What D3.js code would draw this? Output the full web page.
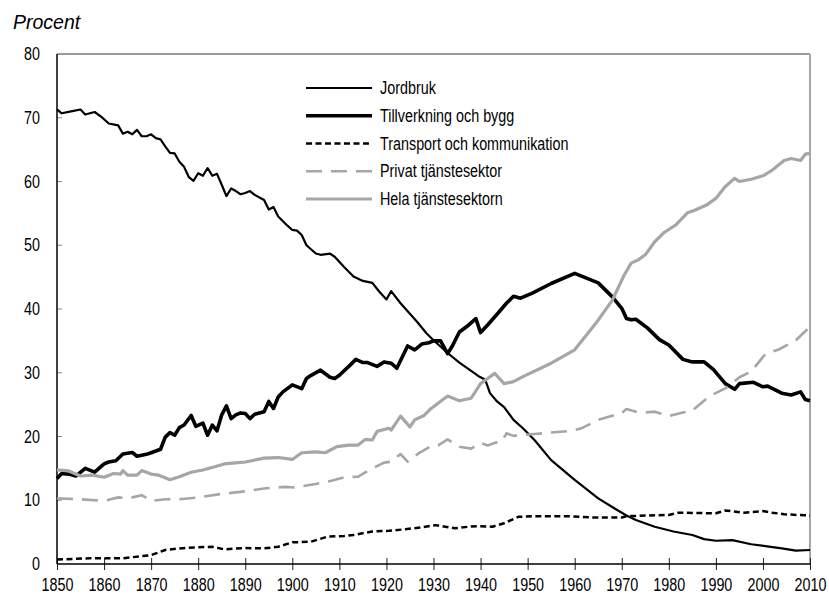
<!DOCTYPE html>
<html>
<head>
<meta charset="utf-8">
<script src="https://cdn.jsdelivr.net/npm/d3@7"></script>
<style>
  body { margin: 0; background: #fff; }
  text { font-family: "Liberation Sans", Arial, sans-serif; fill: #000; }
</style>
</head>
<body>
<svg id="chart"></svg>
<script>
// values, [year, percent]
let jordbruk = [[1850,71.3],[1851,70.7],[1853,71.0],[1855,71.3],[1856,70.5],[1858,70.9],[1859.5,70.1],[1861,69.1],[1863,68.8],[1864,67.5],[1865,67.8],[1866,67.4],[1867,68.1],[1868,67.1],[1869,67.1],[1870,67.4],[1871,66.8],[1872,66.6],[1873,65.5],[1874,64.5],[1875,64.4],[1876,63.1],[1877,62.3],[1878,60.7],[1879,60.1],[1880,61.3],[1881,60.9],[1882,62.1],[1883,60.9],[1884,61.2],[1885,59.5],[1886,57.7],[1887,58.9],[1888,58.5],[1889,58.0],[1890,58.2],[1891,58.5],[1892,57.9],[1894,57.1],[1895,55.6],[1896,56.0],[1897,54.5],[1898.5,53.4],[1900,52.4],[1901,52.3],[1902,51.6],[1903,50.0],[1905,48.7],[1906,48.5],[1908,48.7],[1909,48.2],[1911,46.6],[1913,45.1],[1915,44.4],[1917,44.1],[1918.5,42.7],[1920,41.5],[1921,42.8],[1923,40.9],[1926.5,38.0],[1928.5,36.2],[1930,35.1],[1933,33.1],[1935.5,31.6],[1938,30.3],[1939.5,29.5],[1941,28.9],[1942,26.8],[1943.5,25.5],[1945,24.6],[1947,22.6],[1949,21.3],[1951.5,19.4],[1955,16.3],[1960,13.2],[1965,10.3],[1968.5,8.7],[1971,7.6],[1973,6.9],[1977,5.85],[1981,5.1],[1985,4.55],[1987.5,3.9],[1990,3.65],[1993.5,3.75],[1997.5,3.1],[2000.5,2.8],[2004,2.45],[2007,2.1],[2010,2.2]];

let tillverkning = [[1850,13.4],[1851,14.2],[1852.5,14.1],[1854,13.8],[1856,15.0],[1858,14.4],[1860,15.7],[1861,16.0],[1862.5,16.2],[1864,17.25],[1866,17.5],[1867,16.9],[1869,17.2],[1870,17.45],[1872,18.0],[1873,19.9],[1874,20.6],[1875,20.2],[1876,21.4],[1877,21.8],[1878.5,23.3],[1879.5,21.6],[1881,22.1],[1882,20.2],[1883,21.8],[1884,20.9],[1885,23.4],[1886,24.8],[1887,22.8],[1888,23.4],[1889,23.7],[1890,23.6],[1891,22.8],[1892,23.5],[1894,23.9],[1895,25.5],[1896,24.4],[1897,26.2],[1898,27.0],[1900,28.1],[1902,27.5],[1903,29.1],[1904,29.6],[1906,30.4],[1908,29.3],[1909,29.1],[1910,29.6],[1912,31.0],[1913.5,32.1],[1915,31.6],[1916,31.6],[1918,31.0],[1919.5,31.7],[1921,31.5],[1922.2,30.7],[1924.5,34.2],[1926,33.6],[1927.5,34.5],[1929,34.7],[1930,35.0],[1931.5,35.0],[1933,33.0],[1934,34.2],[1935.5,36.4],[1937.5,37.5],[1939,38.5],[1940,36.3],[1941.5,37.5],[1944,39.6],[1945.5,40.9],[1947,42.0],[1948.5,41.7],[1951,42.5],[1955,44.0],[1960,45.6],[1965,44.1],[1968,41.9],[1970,40.1],[1971,38.5],[1972,38.3],[1973,38.4],[1975.5,37.0],[1978,35.2],[1980,34.35],[1983,32.1],[1985,31.7],[1987.5,31.7],[1989.5,30.5],[1992,28.3],[1994,27.4],[1995,28.3],[1998,28.5],[2000,27.8],[2001,27.9],[2004,26.8],[2006,26.5],[2008,27.0],[2009,25.8],[2010,25.6]];

let transport = [[1850,0.7],[1857,0.9],[1864,0.9],[1870,1.4],[1873,2.2],[1876,2.45],[1879.5,2.6],[1883,2.7],[1885.5,2.3],[1890,2.5],[1894,2.45],[1897,2.7],[1900,3.4],[1904,3.5],[1907.5,4.3],[1911,4.4],[1913,4.55],[1917,5.1],[1920.5,5.2],[1924,5.45],[1927.5,5.75],[1930.5,6.1],[1932.5,5.85],[1934.5,5.6],[1937.5,5.85],[1939.5,5.95],[1942.5,5.85],[1945,6.4],[1948,7.4],[1951.5,7.5],[1958.5,7.5],[1964,7.3],[1970,7.3],[1971,7.5],[1980,7.7],[1982,8.05],[1990,7.95],[1992,8.4],[1996,8.05],[2000,8.3],[2002,8.05],[2004.5,7.8],[2010,7.6]];

let privat = [[1850,10.3],[1855,10.15],[1860,9.9],[1863,10.45],[1865,10.3],[1866,10.45],[1868,10.8],[1870,9.9],[1873,10.15],[1876,10.15],[1880,10.45],[1885,11.0],[1890,11.4],[1894,11.85],[1898.5,12.1],[1900.5,12.0],[1905,12.55],[1908.5,13.1],[1911,13.6],[1914,13.7],[1917,15.0],[1919.5,15.9],[1921,16.05],[1923,17.25],[1924.5,16.05],[1927,17.45],[1929.5,18.5],[1931,18.6],[1933,19.55],[1935.5,18.4],[1938,18.1],[1940,19.0],[1941.5,18.6],[1943,19.0],[1944.5,19.2],[1945.5,20.5],[1947,20.1],[1951.5,20.4],[1959.5,20.9],[1961.5,21.3],[1965,22.6],[1970,23.7],[1971,24.3],[1973,23.9],[1975,23.75],[1977,23.9],[1980,23.2],[1983,23.75],[1985,24.05],[1988.5,26.25],[1992,27.55],[1995,29.3],[1997.5,30.2],[2000.5,32.9],[2003.5,33.7],[2007,35.1],[2010,37.2]];

let hela = [[1850,14.75],[1852.5,14.6],[1855,13.8],[1857.5,13.95],[1860,13.6],[1862,14.2],[1863.5,14.1],[1864,14.65],[1865,13.95],[1867,13.95],[1868,14.65],[1870,14.1],[1871.5,13.95],[1874,13.2],[1876,13.7],[1878.5,14.4],[1881,14.75],[1883,15.15],[1885.5,15.7],[1888.5,15.9],[1890,16.0],[1894,16.6],[1897,16.7],[1900,16.4],[1902,17.45],[1905,17.6],[1907,17.45],[1909.5,18.4],[1912,18.65],[1914,18.65],[1915.5,19.55],[1917,19.45],[1918,20.8],[1920.5,21.3],[1921,21.0],[1923,23.2],[1925,21.5],[1926,22.6],[1928,23.3],[1929.5,24.4],[1933,26.35],[1935.5,25.6],[1938,26.0],[1940,28.3],[1941.5,29.1],[1943,29.9],[1945,28.3],[1947,28.6],[1949,29.4],[1955,31.5],[1960,33.6],[1964.5,37.75],[1968,41.4],[1970.5,45.3],[1972,47.2],[1973.5,47.7],[1975,48.5],[1977,50.55],[1979,52.0],[1981.5,53.2],[1984,55.1],[1985.5,55.5],[1988,56.3],[1990,57.35],[1992,59.2],[1994,60.5],[1995,60.0],[1997.5,60.35],[2000,60.9],[2002,61.8],[2004.5,63.3],[2006,63.6],[2008,63.3],[2009,64.3],[2010,64.4]];

let seriesNames = ["Jordbruk", "Tillverkning och bygg", "Transport och kommunikation", "Privat tjänstesektor", "Hela tjänstesektorn"];
let xTicks = d3.range(1850, 2011, 10);
let yTicks = d3.range(0, 81, 10);

// no narrow font installed, so squeeze Liberation Sans horizontally
let narrow = 0.82;

function getConfig() {
    let width = 829;
    let height = 596;
    let margin = {top: 54, bottom: 32, left: 57, right: 19};
    let container = d3.select("#chart").attr("width", width).attr("height", height);
    return {width, height, margin, container};
}

function getScales(config) {
    let {width, height, margin} = config;
    let xScale = d3.scaleLinear().domain([1850, 2010]).range([margin.left, width - margin.right]);
    let yScale = d3.scaleLinear().domain([0, 80]).range([height - margin.bottom, margin.top]);
    return {xScale, yScale};
}

function drawFrame(scales, config) {
    let {xScale, yScale} = scales;
    let {container} = config;
    let x0 = xScale(1850), x1 = xScale(2010), y0 = yScale(0), y1 = yScale(80);

    // top and right border are grey, like the original
    container.append("line").attr("x1", x0).attr("x2", x1).attr("y1", y1).attr("y2", y1)
        .attr("stroke", "#7a7a7a").attr("stroke-width", 1.5);
    container.append("line").attr("x1", x1).attr("x2", x1).attr("y1", y1).attr("y2", y0)
        .attr("stroke", "#a6a6a6").attr("stroke-width", 2);

    // y axis: ticks point inward
    let axisY = d3.axisLeft(yScale).tickValues(yTicks).tickSize(0);
    let gy = container.append("g").attr("transform", `translate(${x0},0)`).call(axisY);
    gy.select(".domain").remove();
    gy.selectAll("text")
        .attr("x", 0)
        .attr("transform", `translate(-17,0) scale(${narrow},1)`)
        .style("font-size", "17.5px");
    container.selectAll(".ytick").data(yTicks.slice(1, -1)).enter().append("line")
        .attr("x1", x0).attr("x2", x0 + 5)
        .attr("y1", d => yScale(d)).attr("y2", d => yScale(d))
        .attr("stroke", "#8a8a8a").attr("stroke-width", 1);

    // x axis: ticks cross the line
    let axisX = d3.axisBottom(xScale).tickValues(xTicks).tickFormat(d3.format("d"))
        .tickSizeInner(6).tickSizeOuter(0).tickPadding(9);
    let gx = container.append("g").attr("transform", `translate(0,${y0})`).call(axisX);
    gx.select(".domain").remove();
    gx.selectAll(".tick line").attr("y1", -6).attr("stroke", "#222");
    gx.selectAll("text")
        .attr("transform", `scale(${narrow},1)`)
        .style("font-size", "17.5px");

    container.append("line").attr("x1", x0).attr("x2", x0).attr("y1", y1).attr("y2", y0)
        .attr("stroke", "#000").attr("stroke-width", 1.5);
    container.append("line").attr("x1", x0).attr("x2", x1).attr("y1", y0).attr("y2", y0)
        .attr("stroke", "#000").attr("stroke-width", 1.5);

    container.append("text").attr("x", 13).attr("y", 29)
        .style("font-style", "italic").style("font-size", "19.5px")
        .text("Procent");
}

function drawLines(series, scales, config) {
    let {xScale, yScale} = scales;
    let {container} = config;
    let line = d3.line().x(d => xScale(d[0])).y(d => yScale(d[1]));
    container.append("g").selectAll("path").data(series).enter().append("path")
        .attr("d", d => line(d.values))
        .attr("fill", "none")
        .attr("stroke", d => d.color)
        .attr("stroke-width", d => d.width)
        .attr("stroke-dasharray", d => d.dash)
        .attr("stroke-linejoin", "round");
}

function drawLegend(series, config) {
    let {container} = config;
    let rowY = d3.scalePoint().domain(series.map(s => s.name)).range([88, 199]);
    let rows = container.append("g").selectAll("g").data(series).enter().append("g")
        .attr("transform", d => `translate(0,${rowY(d.name)})`);
    rows.append("line").attr("x1", 306).attr("x2", 372).attr("y1", 0).attr("y2", 0)
        .attr("stroke", d => d.color)
        .attr("stroke-width", d => d.width)
        .attr("stroke-dasharray", d => d.dash);
    rows.append("text")
        .attr("transform", `translate(380,6) scale(${narrow},1)`)
        .style("font-size", "17.5px")
        .text(d => d.name);
}

function showChart() {
    let config = getConfig();
    let scales = getScales(config);
    let series = [
        {name: seriesNames[0], values: jordbruk, color: "#000", width: 2.2, dash: null},
        {name: seriesNames[1], values: tillverkning, color: "#000", width: 3.6, dash: null},
        {name: seriesNames[2], values: transport, color: "#000", width: 2.5, dash: "6,3.5"},
        {name: seriesNames[3], values: privat, color: "#a6a6a6", width: 2.6, dash: "16,9"},
        {name: seriesNames[4], values: hela, color: "#a6a6a6", width: 3.2, dash: null}
    ];
    drawFrame(scales, config);
    drawLines(series, scales, config);
    drawLegend(series, config);
}

showChart();
</script>
</body>
</html>
